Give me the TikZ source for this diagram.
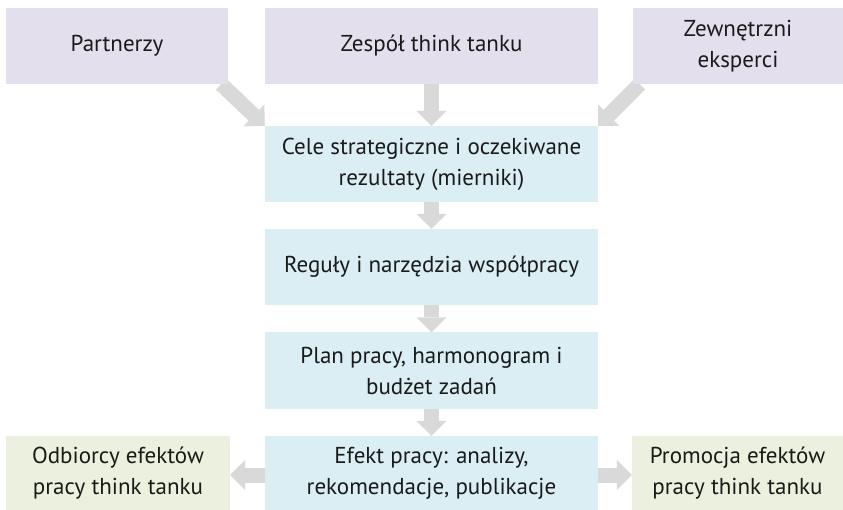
\documentclass[tikz,border=0pt]{standalone}
\usepackage{fontspec}
\setmainfont{PT Sans}
\usetikzlibrary{arrows.meta}
\pgfdeclarelayer{canvas}
\pgfdeclarelayer{flows}
\pgfsetlayers{canvas,flows,main}

\definecolor{sourcefill}{HTML}{E4DFEC}
\definecolor{stagefill}{HTML}{DAEEF3}
\definecolor{outfill}{HTML}{EBF1DE}
\definecolor{flowgray}{HTML}{D9D9D9}
\definecolor{textdark}{HTML}{1A1A1A}

\tikzset{
  x=1pt, y=1pt,
  box/.style={rectangle, inner sep=0pt, align=center, text=textdark,
    font=\fontsize{23}{31}\selectfont},
  source/.style={box, fill=sourcefill, minimum height=76pt},
  stage/.style={box, fill=stagefill, minimum width=333pt, minimum height=76pt},
  outcome/.style={box, fill=outfill, minimum height=74pt},
  flow/.style={draw=flowgray, line width=15pt,
    -{Triangle[width=30pt, length=15pt, line width=0pt]}},
}

\begin{document}
\begin{tikzpicture}
  \useasboundingbox (0,0) rectangle (843,-510);
  \begin{pgfonlayer}{canvas}
    \fill[white] (0,0) rectangle (843,-510);
  \end{pgfonlayer}

  % inputs
  \node[source, minimum width=222pt] (partner) at (117,-46) {Partnerzy};
  \node[source, minimum width=333pt] (team) at (431.5,-46) {Zespół think tanku};
  \node[source, minimum width=210pt] (experts) at (738,-46) {Zewnętrzni\\eksperci};

  % process stages
  \node[stage] (goals) at (431.5,-164) {Cele strategiczne i oczekiwane\\rezultaty (mierniki)};
  \node[stage] (rules) at (431.5,-267) {Reguły i narzędzia współpracy};
  \node[stage] (plan) at (431.5,-370.5) {Plan pracy, harmonogram i\\budżet zadań};
  \node[stage, minimum height=74pt] (result) at (431.5,-473) {Efekt pracy: analizy,\\rekomendacje, publikacje};

  % outputs
  \node[outcome, minimum width=224pt] (audience) at (118,-473) {Odbiorcy efektów\\pracy think tanku};
  \node[outcome, minimum width=211pt] (promo) at (737.5,-473) {Promocja efektów\\pracy think tanku};

  % grey block arrows, kept under the boxes so their butt ends are hidden
  \begin{pgfonlayer}{flows}
    \draw[flow] ([xshift=-7pt]partner.south east) -- (goals.north west);
    \draw[flow] (team.south) -- (goals.north);
    \draw[flow] ([xshift=7pt]experts.south west) -- (goals.north east);
    \draw[flow] (goals.south) -- (rules.north);
    \draw[flow] (rules.south) -- (plan.north);
    \draw[flow] (plan.south) -- (result.north);
    \draw[flow] ([yshift=-2pt]result.west) -- ([yshift=-2pt]audience.east);
    \draw[flow] ([yshift=-2pt]result.east) -- ([yshift=-2pt]promo.west);
  \end{pgfonlayer}
\end{tikzpicture}
\end{document}
